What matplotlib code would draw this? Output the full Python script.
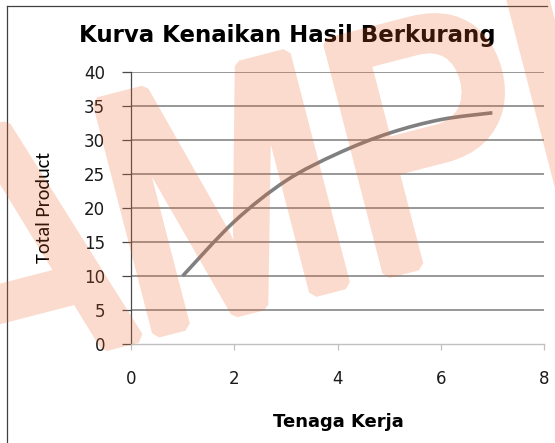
import matplotlib
matplotlib.use("Agg")
import matplotlib.pyplot as plt
import matplotlib.patheffects as pe
from matplotlib.lines import Line2D
from matplotlib.path import Path
from matplotlib.patches import PathPatch

# ---------------------------------------------------------------------------
# Data: total product for each unit of labour
# ---------------------------------------------------------------------------
tenaga_kerja = [1, 2, 3, 4, 5, 6, 7]
total_product = [10, 18, 24, 28, 31, 33, 34]

x_ticks = [0, 2, 4, 6, 8]
y_ticks = [0, 5, 10, 15, 20, 25, 30, 35, 40]

TITLE = "Kurva Kenaikan Hasil Berkurang"
XLABEL = "Tenaga Kerja"
YLABEL = "Total Product"
WATERMARK = "SAMPLE"

TEXT_COLOR = "#1a1a1a"
GRID_COLOR = "#868686"
LINE_COLOR = "#808080"
MARK_COLOR = "#f06428"
MARK_ALPHA = 0.23


def smooth_path(xs, ys):
    """Cubic Bezier path through the points (Excel-style smoothed line)."""
    pts = list(zip(xs, ys))
    verts = [pts[0]]
    codes = [Path.MOVETO]
    n = len(pts)
    for i in range(n - 1):
        p0 = pts[i - 1] if i > 0 else pts[i]
        p1 = pts[i]
        p2 = pts[i + 1]
        p3 = pts[i + 2] if i + 2 < n else pts[i + 1]
        c1 = (p1[0] + (p2[0] - p0[0]) / 6, p1[1] + (p2[1] - p0[1]) / 6)
        c2 = (p2[0] - (p3[0] - p1[0]) / 6, p2[1] - (p3[1] - p1[1]) / 6)
        verts += [c1, c2, p2]
        codes += [Path.CURVE4] * 3
    return Path(verts, codes)


def fade(img, dpi):
    # render the watermark opaque off-screen, then make it translucent in one go
    img = img.copy()
    img[..., 3] *= MARK_ALPHA
    return img, 0, 0


fig = plt.figure(figsize=(5.55, 4.43), dpi=100)
W, H = 555, 443
ax = fig.add_axes([131 / W, 1 - 344 / H, (544 - 131) / W, (344 - 72) / H])

# --- curve ---
ax.add_patch(PathPatch(smooth_path(tenaga_kerja, total_product),
                       facecolor="none", edgecolor=LINE_COLOR, lw=2.6,
                       capstyle="butt", zorder=3))

ax.set_xlim(0, 8)
ax.set_ylim(0, 40)
ax.set_xticks(x_ticks)
ax.set_yticks(y_ticks)

# --- horizontal gridlines ---
for y in y_ticks[1:]:
    ax.axhline(y, color=GRID_COLOR, lw=1.2, zorder=1)

# --- spines and ticks ---
for side in ("top", "right"):
    ax.spines[side].set_visible(False)
ax.spines["left"].set_color("#4a4a4a")
ax.spines["left"].set_linewidth(0.9)
ax.spines["bottom"].set_color("#c0c0c0")
ax.spines["bottom"].set_linewidth(1.0)

ax.tick_params(axis="y", direction="out", length=6.5, width=0.9, color="#4a4a4a",
               pad=12, labelsize=12, labelcolor=TEXT_COLOR)
ax.tick_params(axis="x", direction="out", length=4.5, width=0.9, color="#c0c0c0",
               pad=14, labelsize=12, labelcolor=TEXT_COLOR)
for lbl in ax.get_xticklabels() + ax.get_yticklabels():
    lbl.set_family("DejaVu Sans")

# --- titles ---
fig.text(287 / W, 1 - 42 / H, TITLE, ha="center", va="baseline",
         fontsize=16.5, fontweight="bold", color="black", family="DejaVu Sans")
fig.text(338 / W, 1 - 427 / H, XLABEL, ha="center", va="baseline",
         fontsize=13, fontweight="bold", color="black", family="DejaVu Sans")
fig.text(45 / W, 1 - 207 / H, YLABEL, ha="center", va="center", rotation=90,
         fontsize=14.5, color="black", family="Carlito")

# --- chart area border (left and top edges) ---
fig.add_artist(Line2D([7 / W, 7 / W], [0, 1 - 6 / H], color="#404040", lw=0.9))
fig.add_artist(Line2D([7 / W, 547 / W], [1 - 6 / H, 1 - 6 / H], color="#404040", lw=0.9))

# --- watermark ---
mark = fig.text(327 / W, 1 - 288 / H, WATERMARK, ha="center", va="baseline",
                rotation=14.5, rotation_mode="anchor", fontsize=248,
                family="Archivo Narrow", color=MARK_COLOR, zorder=20)
mark.set_path_effects([pe.Stroke(linewidth=8.5, foreground=MARK_COLOR,
                                 joinstyle="bevel"), pe.Normal()])
mark.set_agg_filter(fade)

fig.savefig("out.png", dpi=100)
